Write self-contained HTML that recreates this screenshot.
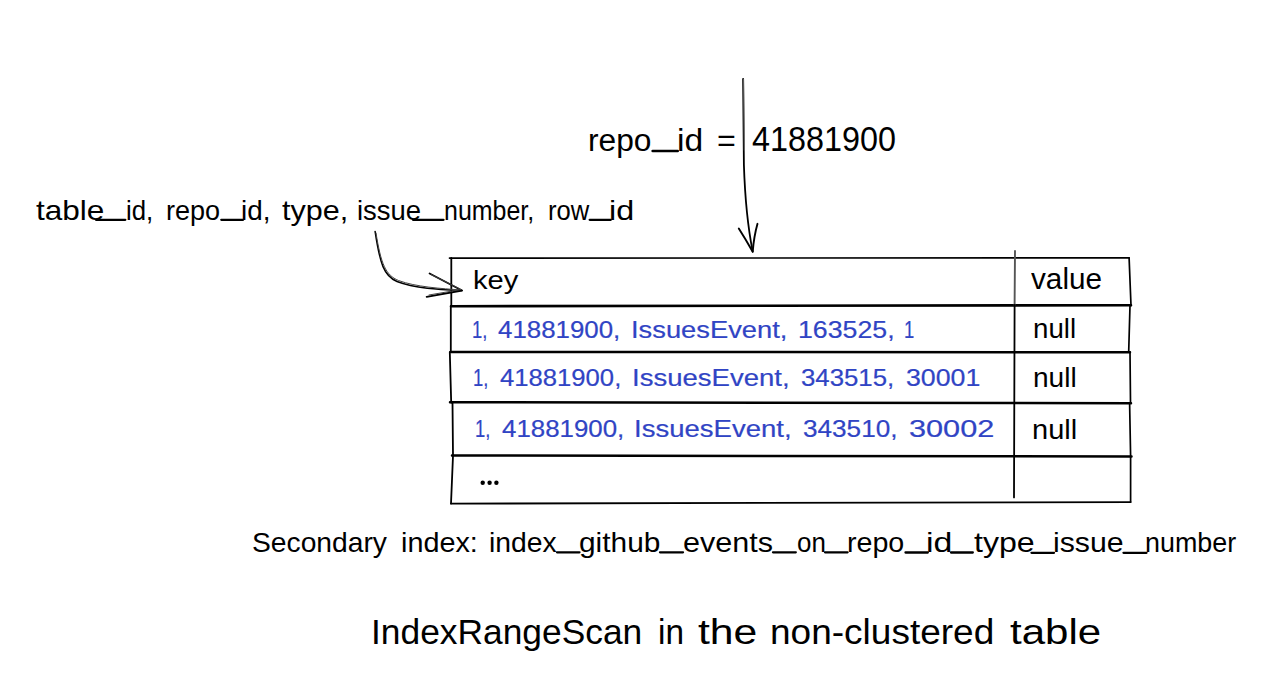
<!DOCTYPE html>
<html>
<head>
<meta charset="utf-8">
<style>
html,body{margin:0;padding:0;background:#fff;}
body{width:1280px;height:690px;position:relative;overflow:hidden;font-family:"Liberation Sans",sans-serif;color:#000;}
.t{position:absolute;white-space:nowrap;line-height:1;transform-origin:0 0;}
.b{color:#3044c4;-webkit-text-stroke:0.2px currentColor;}
.u{position:relative;top:-0.14em;}
svg{position:absolute;left:0;top:0;}
</style>
</head>
<body>
<svg width="1280" height="690" viewBox="0 0 1280 690" fill="none" stroke="#000" stroke-linecap="round" stroke-linejoin="round">
  <!-- table -->
  <path d="M449.5 258.1 L1129.1 257.9" stroke-width="1.7"/>
  <path d="M451.3 258 L451.3 306 M450.8 306 L450.8 352 M449.8 352 L451.2 402.5 M452.5 402.5 L453 456 M453 456 L451 503.5" stroke-width="1.8"/>
  <path d="M1129.1 257.9 L1131 305.5 M1130 305.5 L1128.7 352 M1130 352 L1130.5 402.8 M1129.6 402.8 L1130.6 456 M1130.6 456 L1130.6 502.1" stroke-width="1.7"/>
  <path d="M451 503.6 L1130.6 502.1" stroke-width="1.9"/>
  <path d="M451 306.2 L1131 305.2" stroke-width="2.6"/>
  <path d="M451 351.9 L1130 352.3" stroke-width="2.5"/>
  <path d="M450 402.2 L1131 403.3" stroke-width="2.5"/>
  <path d="M452 455.5 L1131.5 456.4" stroke-width="2.5"/>
  <path d="M1015 251 L1014.6 305" stroke-width="1.9" stroke="#555"/>
  <path d="M1014.6 305 L1014 497.4" stroke-width="1.8"/>
  <!-- vertical arrow -->
  <path d="M743.1 78.8 L743.9 165 Q745.5 215 752.7 251.7" stroke-width="1.8"/>
  <path d="M743.6 79.5 L744.3 150" stroke-width="1" stroke="#666"/>
  <path d="M738.8 228.6 Q746 240 752.7 251.7 Q754 236 757.5 223.8" stroke-width="1.9"/>
  <!-- curved arrow -->
  <path d="M375.1 231.4 C380 264 384 276 397 281.5 C415 288.5 440 289.5 462 290.5" stroke-width="1.5"/>
  <path d="M376 233 C381 264 385.5 275 398.5 280.5 C416 287 441 288.5 461 290" stroke-width="1" stroke="#444"/>
  <path d="M429.6 273.5 L462 290.5 L426.7 296.9" stroke-width="1.9"/>
  <path d="M431 274.5 L461 289.5 L429 295" stroke-width="1" stroke="#444"/>
  <!-- ellipsis -->
  <g fill="#000" stroke="none"><circle cx="482.7" cy="482.7" r="2.2"/><circle cx="489.6" cy="482.7" r="2.2"/><circle cx="496.4" cy="482.7" r="2.2"/></g>
  <!-- underscores -->
  <path d="M652.7 151.0 L677.7 151.0" stroke-width="2.7"/>
  <path d="M96.0 219.8 L125.3 219.8" stroke-width="2.3"/>
  <path d="M221.3 219.8 L243.1 219.8" stroke-width="2.3"/>
  <path d="M413.0 219.8 L443.5 219.8" stroke-width="2.3"/>
  <path d="M589.7 219.8 L610.8 219.8" stroke-width="2.3"/>
  <path d="M557.0 552.3 L579.5 552.3" stroke-width="2.3"/>
  <path d="M660.0 552.3 L683.0 552.3" stroke-width="2.3"/>
  <path d="M773.0 552.3 L795.8 552.3" stroke-width="2.3"/>
  <path d="M825.0 552.3 L847.6 552.3" stroke-width="2.3"/>
  <path d="M905.5 552.5 L927.8 552.5" stroke-width="2.3"/>
  <path d="M951.0 552.5 L972.8 552.5" stroke-width="2.3"/>
  <path d="M1031.5 552.8 L1054.0 552.8" stroke-width="2.3"/>
  <path d="M1123.5 552.8 L1146.5 552.8" stroke-width="2.3"/>
</svg>

<div class="t" id="w0" style="left:588.30px;top:124.50px;font-size:31.85px;transform:scaleX(0.9965);">repo</div>
<div class="t" id="w1" style="left:676.66px;top:124.50px;font-size:31.85px;transform:scaleX(1.0558);">id</div>
<div class="t" id="w2" style="left:717.46px;top:124.50px;font-size:31.85px;transform:scaleX(1.0122);">=</div>
<div class="t" id="w3" style="left:752.09px;top:121.51px;font-size:35.61px;transform:scaleX(0.9085);">41881900</div>
<div class="t" id="w4" style="left:36.00px;top:196.70px;font-size:27.66px;transform:scaleX(1.1404);">table</div>
<div class="t" id="w5" style="left:125.83px;top:196.70px;font-size:27.66px;transform:scaleX(0.9323);">id,</div>
<div class="t" id="w6" style="left:166.17px;top:196.70px;font-size:27.66px;transform:scaleX(0.9778);">repo</div>
<div class="t" id="w7" style="left:241.34px;top:196.70px;font-size:27.66px;transform:scaleX(1.0081);">id,</div>
<div class="t" id="w8" style="left:282.18px;top:196.70px;font-size:27.66px;transform:scaleX(1.1031);">type,</div>
<div class="t" id="w9" style="left:357.30px;top:196.70px;font-size:27.66px;transform:scaleX(0.9927);">issue</div>
<div class="t" id="w10" style="left:444.27px;top:196.70px;font-size:27.66px;transform:scaleX(0.9022);">number,</div>
<div class="t" id="w11" style="left:548.13px;top:196.70px;font-size:27.66px;transform:scaleX(0.9256);">row</div>
<div class="t" id="w12" style="left:608.85px;top:196.70px;font-size:27.66px;transform:scaleX(1.1676);">id</div>
<div class="t" id="w13" style="left:473.33px;top:268.41px;font-size:25.39px;transform:scaleX(1.1469);">key</div>
<div class="t" id="w14" style="left:1031.11px;top:265.00px;font-size:28.58px;transform:scaleX(1.0397);">value</div>
<div class="t b" id="w15" style="left:471.60px;top:319.11px;font-size:23.00px;transform:scaleX(0.8000);">1,</div>
<div class="t b" id="w16" style="left:498.32px;top:319.11px;font-size:23.00px;transform:scaleX(1.1243);">41881900,</div>
<div class="t b" id="w17" style="left:630.50px;top:319.11px;font-size:23.00px;transform:scaleX(1.1876);">IssuesEvent,</div>
<div class="t b" id="w18" style="left:798.16px;top:319.11px;font-size:23.00px;transform:scaleX(1.1614);">163525,</div>
<div class="t b" id="w19" style="left:903.66px;top:319.11px;font-size:23.00px;transform:scaleX(0.8000);">1</div>
<div class="t" id="w20" style="left:1033.35px;top:314.61px;font-size:27.90px;transform:scaleX(0.9923);">null</div>
<div class="t b" id="w21" style="left:473.04px;top:367.20px;font-size:23.00px;transform:scaleX(0.8000);">1,</div>
<div class="t b" id="w22" style="left:500.00px;top:367.20px;font-size:23.00px;transform:scaleX(1.1153);">41881900,</div>
<div class="t b" id="w23" style="left:631.79px;top:367.20px;font-size:23.00px;transform:scaleX(1.1974);">IssuesEvent,</div>
<div class="t b" id="w24" style="left:801.09px;top:367.20px;font-size:23.00px;transform:scaleX(1.1212);">343515,</div>
<div class="t b" id="w25" style="left:906.03px;top:367.20px;font-size:23.00px;transform:scaleX(1.1620);">30001</div>
<div class="t" id="w26" style="left:1032.80px;top:364.32px;font-size:27.90px;transform:scaleX(1.0068);">null</div>
<div class="t b" id="w27" style="left:474.64px;top:418.20px;font-size:23.00px;transform:scaleX(0.8000);">1,</div>
<div class="t b" id="w28" style="left:501.75px;top:418.20px;font-size:23.00px;transform:scaleX(1.1243);">41881900,</div>
<div class="t b" id="w29" style="left:634.44px;top:418.20px;font-size:23.00px;transform:scaleX(1.1964);">IssuesEvent,</div>
<div class="t b" id="w30" style="left:803.18px;top:418.20px;font-size:23.00px;transform:scaleX(1.1361);">343510,</div>
<div class="t b" id="w31" style="left:909.28px;top:418.20px;font-size:23.00px;transform:scaleX(1.3334);">30002</div>
<div class="t" id="w32" style="left:1032.27px;top:415.91px;font-size:27.90px;transform:scaleX(1.0402);">null</div>
<div class="t" id="w33" style="left:252.39px;top:529.51px;font-size:27.06px;transform:scaleX(1.0438);">Secondary</div>
<div class="t" id="w34" style="left:400.54px;top:529.51px;font-size:27.06px;transform:scaleX(1.0640);">index:</div>
<div class="t" id="w35" style="left:488.53px;top:529.82px;font-size:27.06px;transform:scaleX(1.0465);">index</div>
<div class="t" id="w36" style="left:578.53px;top:529.82px;font-size:27.06px;transform:scaleX(1.1043);">github</div>
<div class="t" id="w37" style="left:682.92px;top:529.82px;font-size:27.06px;transform:scaleX(1.1293);">events</div>
<div class="t" id="w38" style="left:796.63px;top:529.82px;font-size:27.06px;transform:scaleX(0.9586);">on</div>
<div class="t" id="w39" style="left:846.65px;top:529.82px;font-size:27.06px;transform:scaleX(1.0584);">repo</div>
<div class="t" id="w40" style="left:926.44px;top:529.82px;font-size:27.06px;transform:scaleX(1.2519);">id</div>
<div class="t" id="w41" style="left:973.88px;top:529.82px;font-size:27.06px;transform:scaleX(1.1877);">type</div>
<div class="t" id="w42" style="left:1053.03px;top:529.82px;font-size:27.06px;transform:scaleX(1.1194);">issue</div>
<div class="t" id="w43" style="left:1144.64px;top:529.82px;font-size:27.06px;transform:scaleX(0.9934);">number</div>
<div class="t" id="w44" style="left:370.53px;top:614.51px;font-size:34.65px;transform:scaleX(1.0205);">IndexRangeScan</div>
<div class="t" id="w45" style="left:657.72px;top:614.51px;font-size:34.65px;transform:scaleX(0.9636);">in</div>
<div class="t" id="w46" style="left:698.00px;top:614.51px;font-size:34.65px;transform:scaleX(1.2329);">the</div>
<div class="t" id="w47" style="left:770.29px;top:614.51px;font-size:34.65px;transform:scaleX(1.0686);">non-clustered</div>
<div class="t" id="w48" style="left:1009.86px;top:614.51px;font-size:34.65px;transform:scaleX(1.2127);">table</div>
</body>
</html>
